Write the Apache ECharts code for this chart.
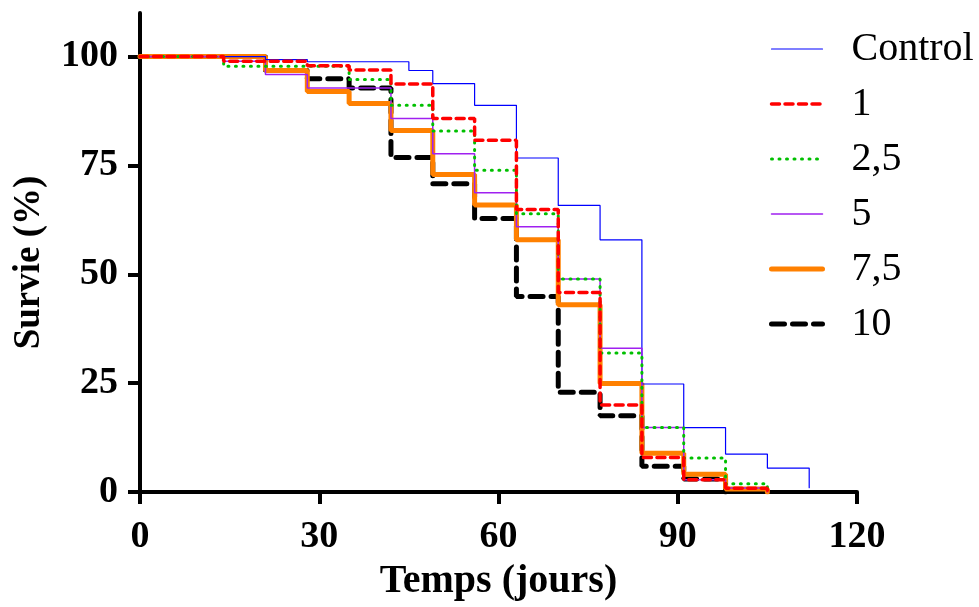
<!DOCTYPE html>
<html>
<head>
<meta charset="utf-8">
<script src="https://cdn.jsdelivr.net/npm/echarts@6/dist/echarts.min.js"></script>
<style>
  html, body { margin: 0; padding: 0; background: #fff; }
  #chart { width: 979px; height: 607px; }
</style>
</head>
<body>
<div id="chart"></div>
<script>
// survival curves, time in days / survival in %
var groupNames = ['Control', '1', '2,5', '5', '7,5', '10'];

var controlDays = [0, 21, 28, 45, 49, 56, 63, 70, 77, 84, 91, 98, 105, 112];
var controlSurv = [100, 99.3, 98.8, 96.8, 93.8, 88.8, 76.7, 65.8, 57.9, 24.8, 14.8, 8.7, 5.5, 1];

var dose1Days = [0, 14, 28, 35, 42, 49, 56, 63, 70, 77, 84, 91, 98, 105];
var dose1Surv = [100, 98.9, 97.9, 96.9, 93.7, 85.8, 80.8, 64.9, 45.8, 20, 7.9, 2.8, 0.85, 0];

var dose25Days = [0, 14, 35, 42, 49, 56, 63, 70, 77, 84, 91, 98, 105];
var dose25Surv = [100, 97.8, 94.7, 88.8, 82.9, 73.9, 63.9, 48.9, 31.9, 14.8, 7.8, 1.9, 0];

var dose5Days = [0, 14, 21, 28, 42, 49, 56, 63, 70, 77, 84, 91, 98, 105];
var dose5Surv = [100, 98.9, 95.9, 92.8, 85.8, 77.7, 68.7, 60.9, 48.9, 33, 14.8, 2.8, 0.9, 0];

var dose75Days = [0, 21, 28, 35, 42, 49, 56, 63, 70, 77, 84, 91, 98, 105];
var dose75Surv = [100, 96.8, 92, 89.2, 83, 72.9, 65.9, 57.9, 43, 24.9, 8.9, 4.1, 0.7, 0];

var dose10Days = [0, 21, 28, 35, 42, 49, 56, 63, 70, 77, 84, 91, 98];
var dose10Surv = [100, 96.8, 94.9, 92.8, 76.8, 70.8, 62.8, 44.9, 22.9, 17.5, 5.9, 3, 0];

var yTicks = [0, 25, 50, 75, 100];

function pairs(days, surv) {
  return days.map(function (d, i) { return [d, surv[i]]; });
}

var font = "'Liberation Serif', 'Times New Roman', serif";

// line look per group, shared by series and legend
var looks = {
  'Control': { color: '#0000ff', width: 1.2, type: 'solid' },
  '1': { color: '#ff0000', width: 3.5, type: [8, 5.5] },
  '2,5': { color: '#00c000', width: 3, type: [1, 6.5] },
  '5': { color: '#a020f0', width: 1.5, type: 'solid' },
  '7,5': { color: '#ff8000', width: 5, type: 'solid' },
  '10': { color: '#000000', width: 5, type: [13, 8] },
};

function lineLook(name) {
  var l = looks[name];
  return { color: l.color, width: l.width, type: l.type, cap: 'round' };
}

function km(name, days, surv, z) {
  return {
    type: 'line',
    name: name,
    step: 'end',
    symbol: 'none',
    z: z,
    lineStyle: lineLook(name),
    itemStyle: { color: looks[name].color },
    data: pairs(days, surv),
  };
}

var myChart = echarts.init(document.getElementById('chart'));
myChart.setOption({
  animation: false,
  grid: { left: 140, right: 122, top: 13, bottom: 114 },
  legend: {
    orient: 'vertical',
    left: 764,
    top: 24,
    itemWidth: 51,
    itemHeight: 14,
    itemGap: 15,
    data: groupNames.map(function (n) {
      return { name: n, lineStyle: lineLook(n), itemStyle: { opacity: 0 } };
    }),
    textStyle: {
      fontFamily: font,
      fontSize: 40,
      lineHeight: 40,
      color: '#000',
      padding: [0, 0, 0, 24],
    },
  },
  xAxis: {
    type: 'value',
    min: 0,
    max: 120,
    interval: 30,
    name: 'Temps (jours)',
    nameLocation: 'middle',
    nameGap: 70,
    nameTextStyle: { fontFamily: font, fontSize: 40, fontWeight: 'bold', color: '#000' },
    splitLine: { show: false },
    axisLine: { lineStyle: { color: '#000', width: 4 } },
    axisTick: { length: 12, lineStyle: { color: '#000', width: 4 } },
    axisLabel: { fontFamily: font, fontSize: 38, fontWeight: 'bold', color: '#000', margin: 26 },
  },
  yAxis: {
    type: 'value',
    min: 0,
    max: 110,
    name: 'Survie (%)',
    nameLocation: 'middle',
    nameGap: 92,
    nameTextStyle: { fontFamily: font, fontSize: 37, fontWeight: 'bold', color: '#000', padding: [0, 20, 0, 0] },
    splitLine: { show: false },
    axisLine: { show: true, lineStyle: { color: '#000', width: 4 } },
    axisTick: { show: true, length: 12, customValues: yTicks, lineStyle: { color: '#000', width: 4 } },
    axisLabel: { customValues: yTicks, fontFamily: font, fontSize: 38, fontWeight: 'bold', color: '#000', margin: 22 },
  },
  series: [
    km('10', dose10Days, dose10Surv, 1),
    km('7,5', dose75Days, dose75Surv, 2),
    km('Control', controlDays, controlSurv, 3),
    km('5', dose5Days, dose5Surv, 4),
    km('2,5', dose25Days, dose25Surv, 5),
    km('1', dose1Days, dose1Surv, 6),
  ],
});
window.addEventListener('resize', function () {
  myChart.resize();
});
</script>
</body>
</html>
